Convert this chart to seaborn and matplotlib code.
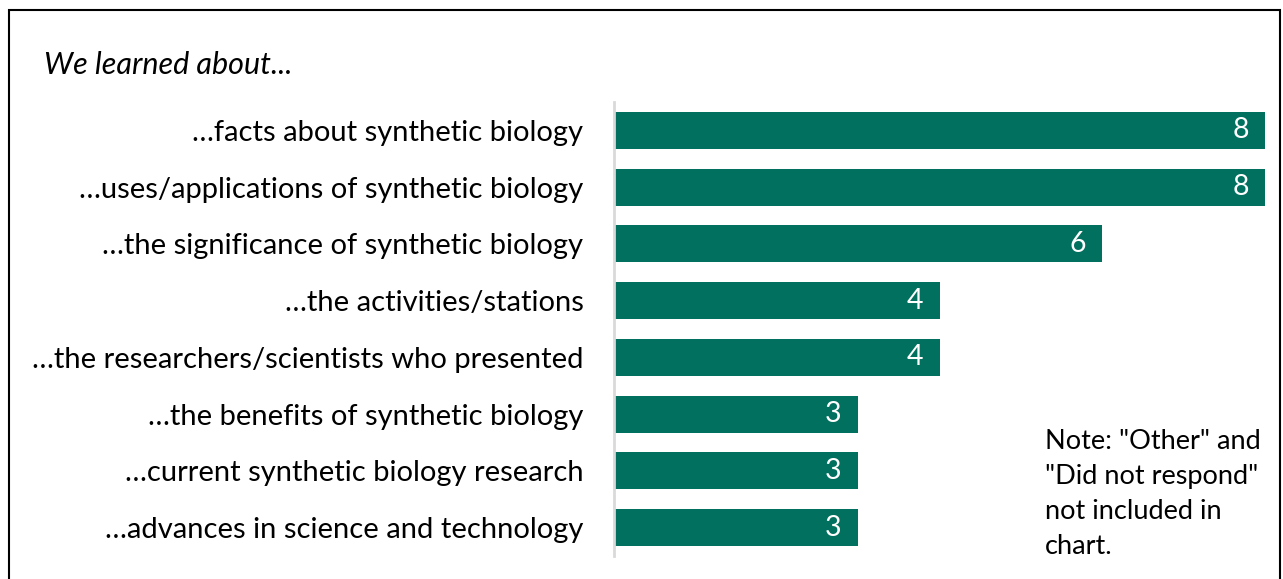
import matplotlib
matplotlib.use("Agg")
import matplotlib.pyplot as plt
import seaborn as sns
import pandas as pd
from matplotlib.patches import Rectangle

# ---------------------------
# Data
# ---------------------------
topics = [
    "\u2026facts about synthetic biology",
    "\u2026uses/applications of synthetic biology",
    "\u2026the significance of synthetic biology",
    "\u2026the activities/stations",
    "\u2026the researchers/scientists who presented",
    "\u2026the benefits of synthetic biology",
    "\u2026current synthetic biology research",
    "\u2026advances in science and technology",
]
counts = [8, 8, 6, 4, 4, 3, 3, 3]

df = pd.DataFrame({"topic": topics, "count": counts})

sns.set_theme(style="white")
plt.rcParams["font.family"] = ["Lato", "DejaVu Sans"]
plt.rcParams["text.color"] = "black"

W, H = 1283, 579
fig = plt.figure(figsize=(W / 100, H / 100), dpi=100)
ax = fig.add_axes([614 / W, 1 - 556 / H, (1265 - 614) / W, (556 - 102) / H])

teal = "#02705F"
sns.barplot(data=df, x="count", y="topic", color=teal, saturation=1,
            width=0.65, ax=ax, edgecolor="none")

ax.set_xlim(0, 8)
ax.set_xlabel("")
ax.set_ylabel("")
ax.set_xticks([])
ax.tick_params(axis="y", length=0, pad=22, labelsize=21, labelcolor="black")

for s in ["top", "right", "bottom"]:
    ax.spines[s].set_visible(False)
ax.spines["left"].set_color("#d9d9d9")
ax.spines["left"].set_linewidth(2)

for i, v in enumerate(counts):
    ax.text(v - 0.2, i, str(v), color="white", ha="right", va="center",
            fontsize=20.5)

# title and note
fig.text(44 / W, 1 - 65 / H, "We learned about...", fontsize=22,
         style="italic", ha="left", va="center", color="black")
fig.text(1045 / W, 1 - 429 / H,
         'Note: "Other" and\n"Did not respond"\nnot included in\nchart.',
         fontsize=19.5, ha="left", va="top", linespacing=1.5, color="black")

# outer frame
fig.patches.append(Rectangle((9 / W, -0.05), (1280 - 9) / W, 1.05 - 10 / H,
                             transform=fig.transFigure, fill=False,
                             edgecolor="black", linewidth=1.5))

fig.savefig("out.png", dpi=100)
